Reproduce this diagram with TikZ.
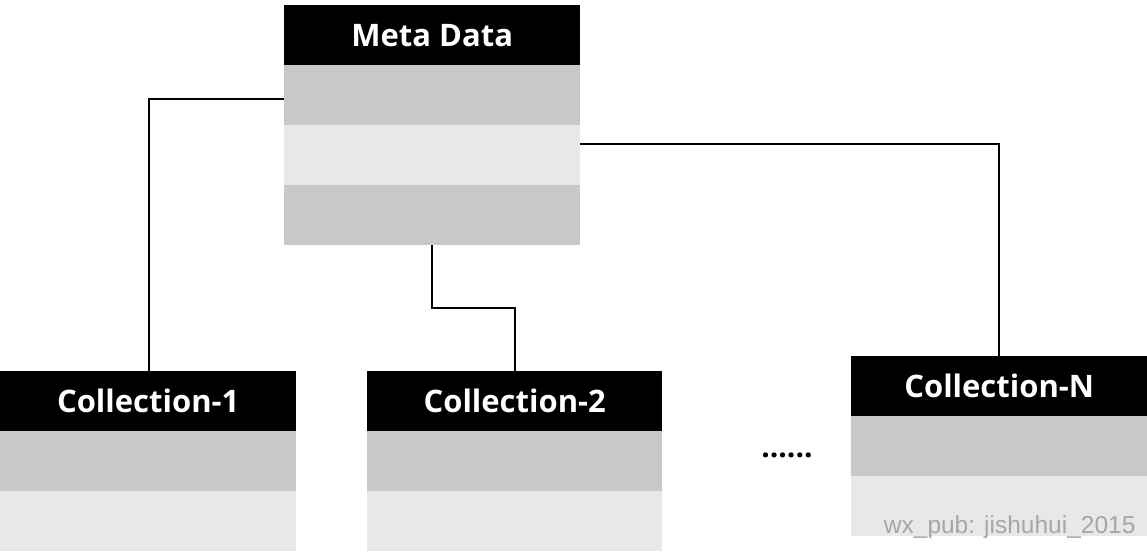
\documentclass[tikz,border=0pt]{standalone}
\usepackage{fontspec}
\setmainfont{Open Sans}
\newfontfamily\wmfont{Liberation Sans}
\definecolor{dk}{HTML}{C8C8C8}
\definecolor{lt}{HTML}{E8E8E8}
\begin{document}
\begin{tikzpicture}[x=1pt,y=-1pt,
  hdr/.style={fill=black,text=white,font=\bfseries\fontsize{31}{33}\selectfont,minimum width=296pt,minimum height=60pt,inner sep=0pt,anchor=north west},
  row/.style={minimum width=296pt,minimum height=60pt,inner sep=0pt,anchor=north west},
  conn/.style={draw=black,line width=1.2pt}]
\useasboundingbox (0,0) rectangle (1147,551);
% Meta data
\node[hdr] (m) at (284,5) {Meta Data};
\node[row,fill=dk] (m1) at (284,65) {};
\node[row,fill=lt] (m2) at (284,125) {};
\node[row,fill=dk] (m3) at (284,185) {};
% Collections
\node[hdr] (c1) at (0,371) {Collection-1};
\node[row,fill=dk] (c11) at (0,431) {};
\node[row,fill=lt] (c12) at (0,491) {};
\node[hdr,minimum width=295pt] (c2) at (367,371) {Collection-2};
\node[row,fill=dk,minimum width=295pt] (c21) at (367,431) {};
\node[row,fill=lt,minimum width=295pt] (c22) at (367,491) {};
\node[hdr] (cn) at (851,356) {Collection-N};
\node[row,fill=dk] (cn1) at (851,416) {};
\node[row,fill=lt] (cn2) at (851,476) {};
\node[font=\bfseries\fontsize{30}{32}\selectfont] (dots) at (787,455) {......};
\node[text=black!35,font=\wmfont\fontsize{24.5}{27}\selectfont,anchor=east] (w) at (1139,527) {wx\_pub: jishuhui\_2015};
% connectors
\draw[conn] (m1.west |- 0,99) -| (c1.north -| 149,0);
\draw[conn] (m3.south -| 432,0) |- (515,308) -- (c2.north -| 515,0);
\draw[conn] (m2.east |- 0,144) -| (cn.north -| 999,0);
\end{tikzpicture}
\end{document}
